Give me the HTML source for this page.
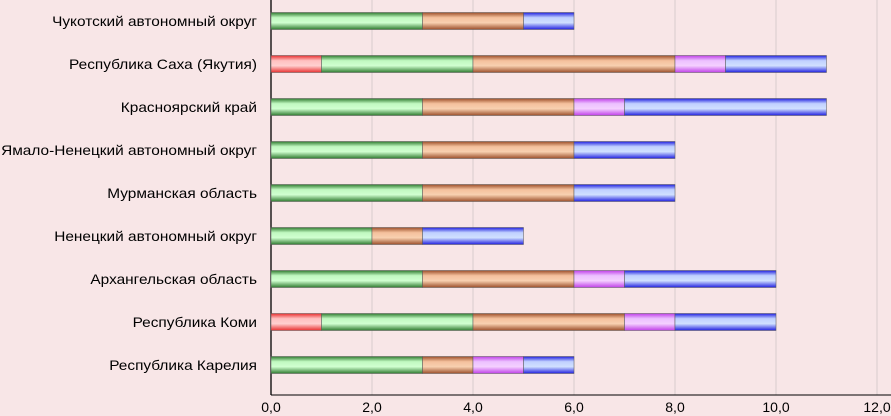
<!DOCTYPE html>
<html><head><meta charset="utf-8"><style>
body{margin:0;background:#f8e6e7;}
svg{display:block;font-family:"Liberation Sans",sans-serif;}
</style></head><body>
<svg id="c" width="891" height="416">
<defs>
<linearGradient id="g-red" x1="0" y1="0" x2="0" y2="1"><stop offset="0" stop-color="#e83030"/><stop offset="0.3" stop-color="#ffc0c0"/><stop offset="0.6" stop-color="#ffd0d0"/><stop offset="1" stop-color="#e83030"/></linearGradient>
<linearGradient id="g-green" x1="0" y1="0" x2="0" y2="1"><stop offset="0" stop-color="#2f7a2f"/><stop offset="0.3" stop-color="#c0f8c0"/><stop offset="0.6" stop-color="#d0ffd0"/><stop offset="1" stop-color="#2f7a2f"/></linearGradient>
<linearGradient id="g-orange" x1="0" y1="0" x2="0" y2="1"><stop offset="0" stop-color="#9c4f2a"/><stop offset="0.3" stop-color="#f4c09c"/><stop offset="0.6" stop-color="#f8d0b0"/><stop offset="1" stop-color="#9c4f2a"/></linearGradient>
<linearGradient id="g-violet" x1="0" y1="0" x2="0" y2="1"><stop offset="0" stop-color="#c040e8"/><stop offset="0.3" stop-color="#ecc0ff"/><stop offset="0.6" stop-color="#f4d0ff"/><stop offset="1" stop-color="#c040e8"/></linearGradient>
<linearGradient id="g-blue" x1="0" y1="0" x2="0" y2="1"><stop offset="0" stop-color="#2020e0"/><stop offset="0.3" stop-color="#c0d0ff"/><stop offset="0.6" stop-color="#d0e0ff"/><stop offset="1" stop-color="#2020e0"/></linearGradient>
</defs>
</svg>
<script>
const categories=["Чукотский автономный округ","Республика Саха (Якутия)","Красноярский край","Ямало-Ненецкий автономный округ","Мурманская область","Ненецкий автономный округ","Архангельская область","Республика Коми","Республика Карелия"];
const redVals=[0,1,0,0,0,0,0,1,0];
const greenVals=[3,3,3,3,3,2,3,3,3];
const orangeVals=[2,4,3,3,3,1,3,3,1];
const violetVals=[0,1,1,0,0,0,1,1,1];
const blueVals=[1,2,4,2,2,2,3,2,1];
const ticks=[0,2,4,6,8,10,12];
const tickLabels=["0,0","2,0","4,0","6,0","8,0","10,0","12,0"];
const series=[["red",redVals],["green",greenVals],["orange",orangeVals],["violet",violetVals],["blue",blueVals]];
const svg=document.getElementById('c');const NS="http://www.w3.org/2000/svg";
const x0=271,x1=877,xmax=12;
const X=v=>x0+(x1-x0)*v/xmax;
const Y=i=>21+i*43;
function mk(t,a){const e=document.createElementNS(NS,t);for(const k in a)e.setAttribute(k,a[k]);svg.appendChild(e);return e;}
ticks.forEach((t,i)=>{
 if(t>0){const g=mk('line',{x1:X(t),x2:X(t),y1:0,y2:395,stroke:'#d8cccc','stroke-width':1});
 
 }
 const l=mk('text',{x:X(t),y:412,'text-anchor':'middle','font-size':14,fill:'#000'});l.textContent=tickLabels[i];
 
 
});
const ax=mk('line',{x1:x0,x2:x0,y1:0,y2:395,stroke:'#000','stroke-width':1.3});


const bx=mk('line',{x1:x0,x2:x1+14,y1:395,y2:395,stroke:'#000','stroke-width':1});


categories.forEach((c,i)=>{
 const t=mk('text',{x:257,y:Y(i)+5,'text-anchor':'end','font-size':14,fill:'#000',textLength:0});
 t.removeAttribute('textLength');
 t.textContent=c;
 
 
 const w=t.getComputedTextLength();
 t.setAttribute('textLength',w*1.1);
 t.setAttribute('lengthAdjust','spacingAndGlyphs');
 let acc=0;
 series.forEach(([n,vals])=>{const v=vals[i];if(v>0){
  const r=mk('rect',{x:X(acc),y:Y(i)-8.5,width:X(acc+v)-X(acc),height:17,fill:'url(#g-'+n+')',stroke:'#555','stroke-width':0.5});
  
  
  acc+=v;}});
});
</script>
</body></html>
